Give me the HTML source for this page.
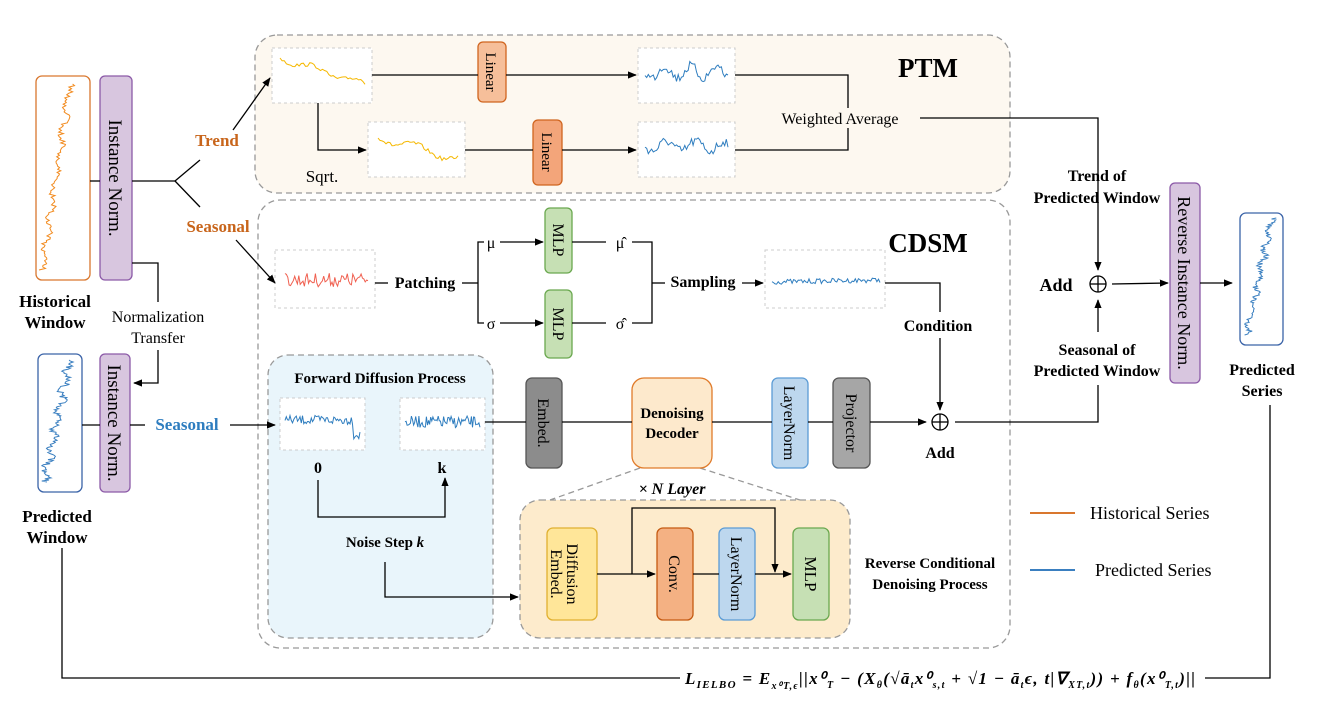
<!DOCTYPE html>
<html><head><meta charset="utf-8"><style>
html,body{margin:0;padding:0;background:#fff}
svg{display:block;font-family:"Liberation Serif",serif}
.b{font-weight:bold}
</style></head><body>
<svg id="s" width="1324" height="708" viewBox="0 0 1324 708" xmlns="http://www.w3.org/2000/svg">
<defs><marker id="a" viewBox="0 0 10 10" refX="9" refY="5" markerWidth="7" markerHeight="7" orient="auto"><path d="M0,1 L10,5 L0,9 z" fill="#000"/></marker></defs>
<g fill="none" stroke="#999" stroke-dasharray="6,4" stroke-width="1.3">
<rect x="255" y="35" width="755" height="158" rx="22" fill="#fdf8f0"/>
<rect x="258" y="200" width="752" height="448" rx="22" fill="#fff"/>
<rect x="268" y="355" width="225" height="283" rx="20" fill="#e9f5fb"/>
<rect x="520" y="500" width="330" height="138" rx="20" fill="#fdebcc"/>
<line x1="640" y1="468" x2="550" y2="500"/><line x1="700" y1="468" x2="800" y2="500"/>
</g>
<g fill="#fff" stroke="#ccc" stroke-dasharray="3,3">
<rect x="272" y="48" width="100" height="55"/><rect x="368" y="122" width="97" height="55"/>
<rect x="638" y="48" width="97" height="55"/><rect x="638" y="122" width="97" height="55"/>
<rect x="275" y="250" width="100" height="58"/><rect x="765" y="250" width="120" height="58"/>
<rect x="280" y="398" width="85" height="52"/><rect x="400" y="398" width="85" height="52"/>
</g>
<rect x="36" y="76" width="54" height="204" rx="6" fill="#fff" stroke="#d9772e" stroke-width="1.3"/>
<rect x="38" y="354" width="44" height="138" rx="6" fill="#fff" stroke="#3a63a8" stroke-width="1.3"/>
<rect x="1240" y="213" width="43" height="132" rx="6" fill="#fff" stroke="#3a63a8" stroke-width="1.3"/>
<g stroke-width="1.3">
<rect x="100" y="76" width="32" height="204" rx="5" fill="#d8c6df" stroke="#8c5aa8"/>
<rect x="100" y="354" width="30" height="138" rx="5" fill="#d8c6df" stroke="#8c5aa8"/>
<rect x="1170" y="183" width="30" height="200" rx="5" fill="#d8c6df" stroke="#8c5aa8"/>
<rect x="478" y="42" width="28" height="60" rx="5" fill="#f6bf9a" stroke="#d0651f"/>
<rect x="533" y="120" width="29" height="65" rx="5" fill="#f3a57a" stroke="#d0651f"/>
<rect x="545" y="208" width="27" height="65" rx="5" fill="#c6e0b4" stroke="#6aa84f"/>
<rect x="545" y="290" width="27" height="68" rx="5" fill="#c6e0b4" stroke="#6aa84f"/>
<rect x="526" y="378" width="36" height="90" rx="6" fill="#8c8c8c" stroke="#555"/>
<rect x="632" y="378" width="80" height="90" rx="12" fill="#fde9cc" stroke="#e07b2a"/>
<rect x="772" y="378" width="36" height="90" rx="6" fill="#bdd7ee" stroke="#5b9bd5"/>
<rect x="833" y="378" width="37" height="90" rx="6" fill="#a6a6a6" stroke="#555"/>
<rect x="547" y="528" width="50" height="92" rx="6" fill="#ffe699" stroke="#e0b030"/>
<rect x="657" y="528" width="36" height="92" rx="6" fill="#f4b183" stroke="#c55a11"/>
<rect x="719" y="528" width="36" height="92" rx="6" fill="#bdd7ee" stroke="#5b9bd5"/>
<rect x="793" y="528" width="36" height="92" rx="6" fill="#c6e0b4" stroke="#6aa84f"/>
</g>
<g stroke="#000" stroke-width="1.3" fill="none">
<line x1="90" y1="181" x2="100" y2="181"/><line x1="132" y1="181" x2="175" y2="181"/>
<line x1="175" y1="181" x2="200" y2="160"/><line x1="233" y1="130" x2="270" y2="78" marker-end="url(#a)"/>
<line x1="175" y1="181" x2="200" y2="207"/><line x1="236" y1="240" x2="275" y2="283" marker-end="url(#a)"/>
<polyline points="132,263 158,263 158,302"/><polyline points="158,350 158,383 134,383" marker-end="url(#a)"/>
<line x1="82" y1="425" x2="100" y2="425"/><line x1="130" y1="425" x2="145" y2="425"/>
<line x1="230" y1="425" x2="275" y2="425" marker-end="url(#a)"/>
<polyline points="62,548 62,678 680,678"/><polyline points="1205,678 1270,678 1270,405"/>
<line x1="372" y1="75" x2="478" y2="75"/><line x1="506" y1="75" x2="636" y2="75" marker-end="url(#a)"/>
<polyline points="735,75 848,75 848,108"/><polyline points="735,150 848,150 848,128"/>
<polyline points="318,103 318,150 366,150" marker-end="url(#a)"/>
<line x1="465" y1="150" x2="533" y2="150"/><line x1="562" y1="150" x2="636" y2="150" marker-end="url(#a)"/>
<polyline points="920,118 1098,118 1098,270" marker-end="url(#a)"/>
<line x1="1112" y1="284" x2="1168" y2="283" marker-end="url(#a)"/>
<line x1="1200" y1="283" x2="1232" y2="283" marker-end="url(#a)"/>
<polyline points="955,422 1098,422 1098,385"/><line x1="1098" y1="332" x2="1098" y2="300" marker-end="url(#a)"/>
<line x1="375" y1="283" x2="388" y2="283"/><line x1="462" y1="283" x2="478" y2="283"/>
<polyline points="484,242 478,242 478,323 484,323"/>
<line x1="500" y1="242" x2="543" y2="242" marker-end="url(#a)"/><line x1="500" y1="323" x2="543" y2="323" marker-end="url(#a)"/>
<line x1="572" y1="242" x2="606" y2="242"/><line x1="572" y1="323" x2="606" y2="323"/>
<polyline points="632,242 652,242 652,323 632,323"/><line x1="652" y1="283" x2="665" y2="283"/>
<line x1="742" y1="283" x2="763" y2="283" marker-end="url(#a)"/>
<polyline points="885,283 940,283 940,312"/><line x1="940" y1="338" x2="940" y2="410" marker-end="url(#a)"/>
<line x1="485" y1="422" x2="526" y2="422"/><line x1="562" y1="422" x2="632" y2="422"/>
<line x1="712" y1="422" x2="772" y2="422"/><line x1="808" y1="422" x2="833" y2="422"/>
<line x1="870" y1="422" x2="926" y2="422" marker-end="url(#a)"/>
<polyline points="318,480 318,517 445,517 445,478" marker-end="url(#a)"/>
<polyline points="385,562 385,597 518,597" marker-end="url(#a)"/>
<line x1="597" y1="574" x2="655" y2="574" marker-end="url(#a)"/>
<polyline points="632,574 632,508 775,508 775,572" marker-end="url(#a)"/>
<line x1="693" y1="574" x2="719" y2="574"/><line x1="755" y1="574" x2="791" y2="574" marker-end="url(#a)"/>
<circle cx="940" cy="422" r="8"/><line x1="932" y1="422" x2="948" y2="422"/><line x1="940" y1="414" x2="940" y2="430"/>
<circle cx="1098" cy="284" r="8"/><line x1="1090" y1="284" x2="1106" y2="284"/><line x1="1098" y1="276" x2="1098" y2="292"/>
</g>
<line x1="1030" y1="513" x2="1075" y2="513" stroke="#d9772e" stroke-width="2"/>
<line x1="1030" y1="570" x2="1075" y2="570" stroke="#3a7fc0" stroke-width="2"/>
<g id="plots" fill="none" stroke-width="1"></g>
<g font-size="16" text-anchor="middle">
<text x="928" y="77" font-size="27" class="b">PTM</text>
<text x="928" y="252" font-size="27" class="b">CDSM</text>
<text x="217" y="146" fill="#c8651b" class="b" font-size="17">Trend</text>
<text x="218" y="232" fill="#c8651b" class="b" font-size="17">Seasonal</text>
<text x="187" y="430" fill="#2e7dbf" class="b" font-size="17">Seasonal</text>
<text x="158" y="322" font-size="16">Normalization</text><text x="158" y="343" font-size="16">Transfer</text>
<text x="55" y="307" class="b" font-size="17">Historical</text><text x="55" y="328" class="b" font-size="17">Window</text>
<text x="57" y="522" class="b" font-size="17">Predicted</text><text x="57" y="543" class="b" font-size="17">Window</text>
<text x="1262" y="375" class="b">Predicted</text><text x="1262" y="396" class="b">Series</text>
<text x="322" y="182" font-size="17">Sqrt.</text>
<text x="840" y="124" font-size="16">Weighted Average</text>
<text x="1097" y="181" class="b">Trend of</text><text x="1097" y="203" class="b">Predicted Window</text>
<text x="1097" y="355" class="b">Seasonal of</text><text x="1097" y="376" class="b">Predicted Window</text>
<text x="1056" y="291" class="b" font-size="18">Add</text>
<text x="940" y="458" class="b">Add</text>
<text x="938" y="331" class="b">Condition</text>
<text x="425" y="288" class="b">Patching</text>
<text x="703" y="287" class="b">Sampling</text>
<text x="491" y="248">μ</text><text x="491" y="329">σ</text>
<text x="620" y="248">μ̂</text><text x="620" y="329">σ̂</text>
<text x="380" y="383" class="b" font-size="15">Forward Diffusion Process</text>
<text x="318" y="473" class="b">0</text><text x="442" y="473" class="b">k</text>
<text x="385" y="547" class="b" font-size="15">Noise Step <tspan font-style="italic">k</tspan></text>
<text x="672" y="418" class="b" font-size="15">Denoising</text><text x="672" y="438" class="b" font-size="15">Decoder</text>
<text x="672" y="494" class="b" font-style="italic">× N Layer</text>
<text x="930" y="568" class="b" font-size="15">Reverse Conditional</text><text x="930" y="589" class="b" font-size="15">Denoising Process</text>
<text x="1090" y="519" text-anchor="start" font-size="18">Historical Series</text>
<text x="1095" y="576" text-anchor="start" font-size="18">Predicted Series</text>
<text x="940" y="684" class="b" font-style="italic" font-size="17" textLength="510" lengthAdjust="spacing">L<tspan font-size="11" dy="4">IELBO</tspan><tspan dy="-4"> = E</tspan><tspan font-size="10" dy="5">x⁰T,ϵ</tspan><tspan dy="-5">||x⁰</tspan><tspan font-size="10" dy="4">T</tspan><tspan dy="-4"> − (X</tspan><tspan font-size="10" dy="4">θ</tspan><tspan dy="-4">(√ā</tspan><tspan font-size="10" dy="4">t</tspan><tspan dy="-4">x⁰</tspan><tspan font-size="10" dy="4">s,t</tspan><tspan dy="-4"> + √1 − ā</tspan><tspan font-size="10" dy="4">t</tspan><tspan dy="-4">ϵ, t|∇</tspan><tspan font-size="10" dy="4">XT,t</tspan><tspan dy="-4">)) + f</tspan><tspan font-size="10" dy="4">θ</tspan><tspan dy="-4">(x⁰</tspan><tspan font-size="10" dy="4">T,t</tspan><tspan dy="-4">)||</tspan></text>
</g>
<g font-size="16">
<text transform="translate(109,178) rotate(90)" text-anchor="middle" font-size="19">Instance Norm.</text>
<text transform="translate(108,423) rotate(90)" text-anchor="middle" font-size="19">Instance Norm.</text>
<text transform="translate(1178,283) rotate(90)" text-anchor="middle" font-size="18">Reverse Instance Norm.</text>
<text transform="translate(486,72) rotate(90)" text-anchor="middle" font-size="15">Linear</text>
<text transform="translate(542,152) rotate(90)" text-anchor="middle" font-size="15">Linear</text>
<text transform="translate(553,240) rotate(90)" text-anchor="middle" font-size="16">MLP</text>
<text transform="translate(553,324) rotate(90)" text-anchor="middle" font-size="16">MLP</text>
<text transform="translate(538,423) rotate(90)" text-anchor="middle" font-size="16">Embed.</text>
<text transform="translate(784,423) rotate(90)" text-anchor="middle" font-size="16">LayerNorm</text>
<text transform="translate(846,423) rotate(90)" text-anchor="middle" font-size="16">Projector</text>
<text transform="translate(567,574) rotate(90)" text-anchor="middle" font-size="16">Diffusion</text>
<text transform="translate(551,574) rotate(90)" text-anchor="middle" font-size="16">Embed.</text>
<text transform="translate(669,574) rotate(90)" text-anchor="middle" font-size="16">Conv.</text>
<text transform="translate(731,574) rotate(90)" text-anchor="middle" font-size="16">LayerNorm</text>
<text transform="translate(805,574) rotate(90)" text-anchor="middle" font-size="17">MLP</text>
</g>
</svg>
<script>
var seed=7;function r(){seed=(seed*16807)%2147483647;return seed/2147483647;}
var g=document.getElementById('plots');
function add(pts,c){var p=document.createElementNS('http://www.w3.org/2000/svg','polyline');p.setAttribute('points',pts.join(' '));p.setAttribute('stroke',c);g.appendChild(p);}
function vert(x0,y0,y1,x1,c,amp){var pts=[],n=120;for(var i=0;i<=n;i++){var y=y0+(y1-y0)*i/n;var x=x0+(x1-x0)*i/n+(r()-.5)*amp+Math.sin(i/3)*amp*.4;pts.push(x.toFixed(1)+','+y.toFixed(1));}add(pts,c);}
function hor(x0,x1,yc,tr,c,amp,n){var pts=[];for(var i=0;i<=n;i++){var x=x0+(x1-x0)*i/n;var y=yc+tr(i/n)+(r()-.5)*amp;pts.push(x.toFixed(1)+','+y.toFixed(1));}add(pts,c);}
vert(42,270,84,70,'#f28b1f',6);vert(44,482,360,70,'#3a7fc0',7);vert(1246,335,218,1272,'#3a7fc0',6);
hor(280,365,70,function(t){return -12+t*26+Math.sin(t*12)*3},'#f5b800',4,40);
hor(378,458,145,function(t){return -8+t*22+Math.sin(t*10)*4},'#f5b800',4,40);
hor(645,728,72,function(t){return Math.sin(t*20)*6},'#2e7dbf',10,50);
hor(645,728,146,function(t){return Math.sin(t*18)*5},'#2e7dbf',10,50);
hor(285,368,280,function(t){return 0},'#f06050',14,60);
hor(772,880,282,function(t){return -2*t},'#2e7dbf',5,70);
hor(285,360,420,function(t){return t>.9?15:0},'#2e7dbf',9,60);
hor(405,480,422,function(t){return 0},'#2e7dbf',12,70);
</script>
</body></html>
